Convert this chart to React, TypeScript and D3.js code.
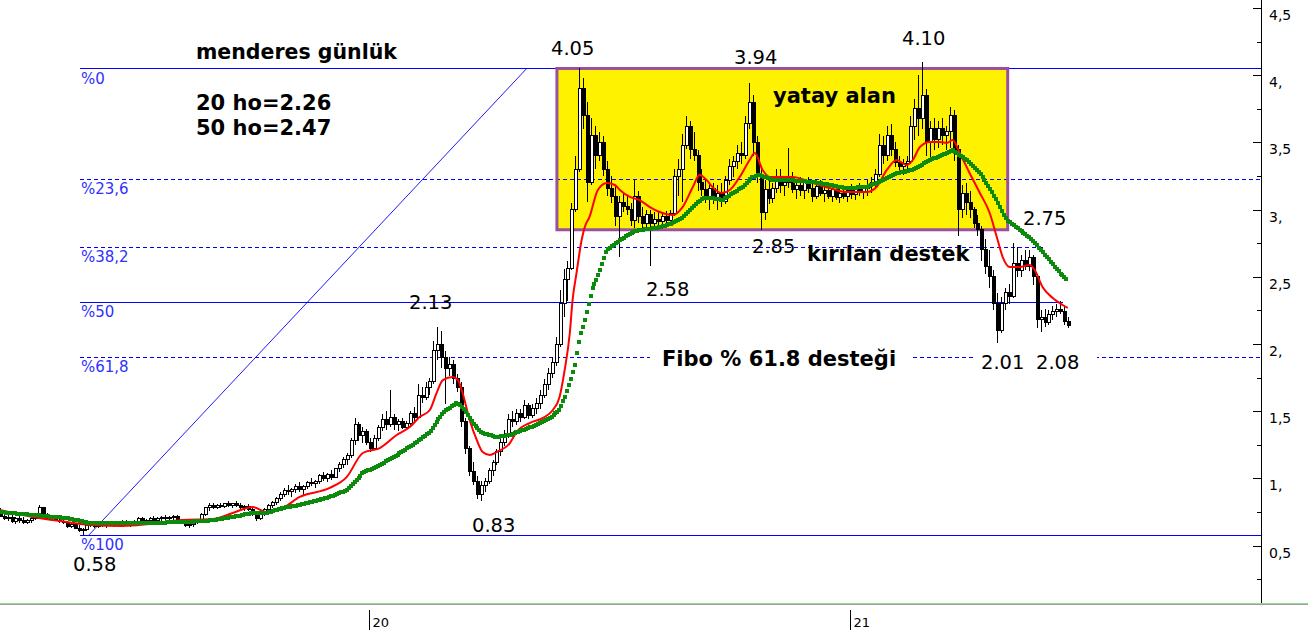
import React from 'react';
import * as d3 from 'd3';

// ---------- DATA ----------
const firstBarDate = new Date(2019, 2, 26);
const barStepDays = 3;

// [open, high, low, close]
const candles2019: number[][] = [
  [0.74,0.78,0.71,0.72],[0.72,0.75,0.69,0.70],[0.70,0.73,0.68,0.71],[0.71,0.73,0.67,0.68],[0.68,0.71,0.66,0.70],
  [0.70,0.72,0.67,0.69],[0.69,0.71,0.66,0.67],[0.67,0.70,0.66,0.69],[0.69,0.72,0.67,0.70],[0.70,0.74,0.69,0.73],
  [0.73,0.80,0.72,0.78],[0.78,0.79,0.72,0.73],[0.73,0.74,0.69,0.70],[0.70,0.72,0.68,0.71],[0.71,0.72,0.68,0.69],
  [0.69,0.71,0.67,0.68],[0.68,0.70,0.66,0.67],[0.67,0.68,0.63,0.64],[0.64,0.67,0.63,0.66],[0.66,0.67,0.62,0.63],
  [0.63,0.65,0.60,0.61],[0.61,0.63,0.58,0.62],[0.62,0.66,0.61,0.65],[0.65,0.68,0.64,0.66],[0.66,0.67,0.63,0.64],
  [0.64,0.67,0.63,0.66],[0.66,0.68,0.64,0.65],[0.65,0.67,0.63,0.66],[0.66,0.68,0.65,0.67],[0.67,0.68,0.64,0.65],
  [0.65,0.67,0.64,0.66],[0.66,0.69,0.65,0.68],[0.68,0.69,0.65,0.66],[0.66,0.68,0.64,0.67],[0.67,0.69,0.66,0.68],
  [0.68,0.71,0.67,0.70],[0.70,0.71,0.67,0.68],[0.68,0.70,0.66,0.69],[0.69,0.71,0.67,0.70],[0.70,0.72,0.68,0.69],
  [0.69,0.71,0.67,0.70],[0.70,0.72,0.68,0.71],[0.71,0.73,0.69,0.70],[0.70,0.72,0.68,0.71],[0.71,0.73,0.69,0.72],
  [0.72,0.73,0.68,0.69],[0.69,0.70,0.66,0.67],[0.67,0.68,0.64,0.65],[0.65,0.67,0.63,0.66],[0.66,0.68,0.64,0.67],
  [0.67,0.70,0.66,0.69],[0.69,0.74,0.68,0.73],[0.73,0.79,0.72,0.78],[0.78,0.82,0.76,0.80],[0.80,0.82,0.77,0.78],
  [0.78,0.81,0.77,0.80],[0.80,0.82,0.78,0.79],[0.79,0.82,0.78,0.81],[0.81,0.83,0.79,0.80],[0.80,0.82,0.78,0.81],
  [0.81,0.83,0.79,0.80],[0.80,0.82,0.77,0.78],[0.78,0.80,0.76,0.79],[0.79,0.81,0.76,0.77],[0.77,0.78,0.72,0.73],
  [0.73,0.75,0.68,0.70],[0.70,0.74,0.69,0.73],[0.73,0.78,0.72,0.77],[0.77,0.81,0.76,0.80],[0.80,0.83,0.78,0.82],
  [0.82,0.86,0.80,0.85],[0.85,0.90,0.83,0.88],[0.88,0.93,0.86,0.91],[0.91,0.95,0.88,0.90],[0.90,0.93,0.86,0.92],
  [0.92,0.96,0.89,0.94],[0.94,0.97,0.90,0.92],[0.92,0.95,0.88,0.94],[0.94,0.98,0.92,0.97],[0.97,1.00,0.94,0.96],
  [0.96,0.99,0.93,0.98],[0.98,1.03,0.96,1.02],[1.02,1.05,0.98,1.00],[1.00,1.04,0.97,1.03],[1.03,1.06,0.99,1.01],
  [1.01,1.08,1.00,1.07],[1.07,1.12,1.05,1.10],[1.10,1.16,1.08,1.14],[1.14,1.19,1.10,1.17],[1.17,1.30,1.15,1.28],
  [1.28,1.45,1.25,1.40],[1.40,1.42,1.28,1.32],[1.32,1.38,1.26,1.35],[1.35,1.37,1.25,1.27],
];

const candles2020a: number[][] = [
  [1.27,1.30,1.20,1.22],[1.22,1.32,1.21,1.30],[1.30,1.40,1.28,1.38],[1.38,1.48,1.35,1.44],[1.44,1.50,1.36,1.40],
  [1.40,1.66,1.38,1.45],[1.45,1.48,1.36,1.40],[1.40,1.44,1.35,1.42],[1.42,1.45,1.37,1.38],[1.38,1.43,1.36,1.41],
  [1.41,1.50,1.40,1.48],[1.48,1.53,1.43,1.45],[1.45,1.70,1.44,1.62],[1.62,1.68,1.56,1.60],[1.60,1.72,1.58,1.68],
  [1.68,1.75,1.62,1.72],[1.72,2.02,1.70,1.95],[1.95,2.13,1.88,2.00],[2.00,2.10,1.82,1.90],[1.90,1.95,1.55,1.82],
  [1.82,1.90,1.76,1.85],[1.85,1.88,1.70,1.74],[1.74,1.78,1.64,1.68],[1.68,1.72,1.38,1.42],[1.42,1.45,1.18,1.22],
  [1.22,1.24,1.02,1.05],[1.05,1.12,0.95,0.98],[0.98,1.02,0.85,0.88],[0.88,0.98,0.83,0.95],[0.95,1.00,0.90,0.98],
  [0.98,1.08,0.96,1.06],[1.06,1.14,1.02,1.12],[1.12,1.22,1.10,1.20],[1.20,1.30,1.17,1.27],[1.27,1.36,1.24,1.32],
  [1.32,1.48,1.30,1.44],[1.44,1.50,1.38,1.42],[1.42,1.52,1.40,1.48],[1.48,1.52,1.42,1.45],[1.45,1.58,1.44,1.54],
  [1.54,1.56,1.44,1.47],[1.47,1.55,1.45,1.52],[1.52,1.60,1.48,1.56],[1.56,1.66,1.52,1.62],[1.62,1.74,1.60,1.70],
  [1.70,1.82,1.66,1.78],[1.78,1.90,1.75,1.86],[1.86,2.05,1.84,2.00],[2.00,2.40,1.98,2.30],[2.30,2.56,2.20,2.48],
  [2.48,2.62,2.32,2.56],[2.56,3.05,2.55,3.00],[3.00,3.40,2.98,3.30],[3.30,4.05,3.28,3.90],[3.90,3.98,3.60,3.70],
  [3.70,3.80,3.06,3.20],[3.20,3.68,3.18,3.55],[3.55,3.62,3.30,3.40],[3.40,3.58,3.36,3.50],[3.50,3.55,3.25,3.30],
  [3.30,3.36,3.10,3.16],
];

const candles2020b: number[][] = [
  [3.16,3.25,3.05,3.10],[3.10,3.18,2.88,2.95],[2.95,3.10,2.65,3.05],[3.05,3.12,2.98,3.02],[3.02,3.10,2.96,3.00],
  [3.00,3.05,2.88,2.92],[2.92,3.22,2.86,3.10],[3.10,3.14,2.90,2.95],[2.95,3.02,2.86,2.90],[2.90,3.00,2.86,2.96],
  [2.96,3.00,2.58,2.90],[2.90,2.98,2.87,2.93],[2.93,2.98,2.88,2.91],[2.91,2.97,2.87,2.95],[2.95,2.99,2.88,2.92],
  [2.92,3.00,2.88,2.97],[2.97,3.30,2.95,3.25],[3.25,3.38,3.10,3.30],[3.30,3.56,3.06,3.48],[3.48,3.70,3.45,3.62],
  [3.62,3.66,3.38,3.45],[3.45,3.58,3.36,3.40],[3.40,3.44,3.14,3.20],[3.20,3.30,3.10,3.15],[3.15,3.22,3.05,3.10],
  [3.10,3.20,3.00,3.16],[3.16,3.20,3.04,3.08],[3.08,3.18,3.00,3.12],[3.12,3.20,3.02,3.06],[3.06,3.25,3.04,3.22],
  [3.22,3.38,3.18,3.32],[3.32,3.40,3.24,3.36],[3.36,3.48,3.30,3.42],[3.42,3.50,3.34,3.40],[3.40,3.70,3.38,3.64],
  [3.64,3.94,3.60,3.80],[3.80,3.85,3.40,3.50],[3.50,3.55,3.20,3.26],[3.26,3.30,2.85,2.98],[2.98,3.22,2.92,3.15],
  [3.15,3.22,3.04,3.08],[3.08,3.20,3.05,3.16],[3.16,3.30,3.12,3.25],[3.25,3.30,3.12,3.18],[3.18,3.24,3.10,3.20],
  [3.20,3.46,3.16,3.24],[3.24,3.28,3.12,3.15],[3.15,3.22,3.08,3.18],[3.18,3.24,3.10,3.14],[3.14,3.22,3.08,3.20],
  [3.20,3.24,3.12,3.16],[3.16,3.20,3.06,3.10],[3.10,3.20,3.08,3.17],[3.17,3.22,3.10,3.12],[3.12,3.18,3.06,3.14],
  [3.14,3.20,3.08,3.10],[3.10,3.18,3.06,3.15],[3.15,3.19,3.07,3.09],[3.09,3.16,3.05,3.12],[3.12,3.18,3.08,3.10],
  [3.10,3.16,3.06,3.14],
];

const candles2021: number[][] = [
  [3.14,3.19,3.08,3.11],[3.11,3.17,3.07,3.15],[3.15,3.20,3.10,3.13],[3.13,3.18,3.08,3.16],[3.16,3.22,3.10,3.18],
  [3.18,3.24,3.12,3.20],[3.20,3.30,3.15,3.26],[3.26,3.56,3.24,3.48],[3.48,3.55,3.34,3.40],[3.40,3.62,3.36,3.55],
  [3.55,3.64,3.40,3.45],[3.45,3.50,3.32,3.35],[3.35,3.40,3.28,3.32],[3.32,3.38,3.26,3.34],[3.34,3.40,3.28,3.36],
  [3.36,3.70,3.34,3.62],[3.62,3.82,3.52,3.75],[3.75,4.00,3.55,3.68],[3.68,4.10,3.60,3.85],[3.85,3.90,3.40,3.50],
  [3.50,3.66,3.36,3.60],[3.60,3.68,3.44,3.52],[3.52,3.66,3.46,3.60],[3.60,3.68,3.48,3.55],[3.55,3.62,3.44,3.58],
  [3.58,3.76,3.46,3.70],[3.70,3.74,3.36,3.45],[3.45,3.48,2.80,3.00],[3.00,3.18,2.94,3.12],[3.12,3.20,2.96,3.05],
  [3.05,3.14,2.94,3.00],[3.00,3.02,2.86,2.90],[2.90,2.96,2.80,2.85],[2.85,2.88,2.62,2.70],[2.70,2.78,2.52,2.58],
  [2.58,2.70,2.42,2.50],[2.50,2.55,2.25,2.30],[2.30,2.38,2.01,2.10],[2.10,2.35,2.08,2.30],[2.30,2.42,2.25,2.38],
  [2.38,2.45,2.30,2.35],[2.35,2.75,2.34,2.60],[2.60,2.72,2.50,2.55],[2.55,2.66,2.50,2.62],[2.62,2.70,2.55,2.58],
  [2.58,2.70,2.54,2.64],[2.64,2.66,2.44,2.50],[2.50,2.52,2.12,2.18],[2.18,2.25,2.09,2.20],[2.20,2.26,2.13,2.16],
  [2.16,2.25,2.14,2.22],[2.22,2.28,2.18,2.24],[2.24,2.30,2.20,2.26],[2.26,2.32,2.22,2.24],[2.24,2.28,2.14,2.17],
  [2.17,2.20,2.12,2.14],
];

// moving averages: [bar index, value]
const ma20Points: number[][] = [
  [0,0.765],[8.4,0.713],[17,0.676],[22.8,0.653],[31.2,0.646],[38,0.661],[46.4,0.690],[54,0.698],[59.1,0.743],
  [64.2,0.787],[67.7,0.750],[71.8,0.780],[76.1,0.862],[83.7,0.929],[88,1.010],[92.1,1.189],[96.4,1.226],
  [100.7,1.323],[104,1.382],[106.5,1.457],[109.1,1.509],[110.8,1.635],[112.4,1.732],[114.9,1.754],[116.2,1.732],
  [117.4,1.635],[119.2,1.435],[121,1.286],[122.5,1.196],[124.3,1.174],[126,1.196],[129.4,1.263],[131.1,1.345],
  [134.4,1.412],[137.7,1.449],[140.3,1.509],[142,1.606],[143.3,1.807],[144.6,2.082],[145.3,2.327],[146.3,2.528],
  [147.6,2.774],[148.4,2.871],[149.6,2.945],[151.7,3.146],[154,3.198],[156,3.183],[157.3,3.146],[159.8,3.094],
  [162.3,3.071],[164.9,3.019],[167.4,2.982],[170.7,2.960],[173.2,3.019],[175.8,3.168],[177.5,3.257],[179.3,3.220],
  [180.8,3.168],[183.1,3.124],[185.2,3.146],[187.7,3.243],[190.2,3.369],[191.5,3.421],[193.5,3.295],[195.3,3.243],
  [197.8,3.243],[201.1,3.243],[206.2,3.198],[210.5,3.161],[214.8,3.131],[219.9,3.131],[222.4,3.168],[225,3.295],
  [227.5,3.369],[230,3.332],[231.6,3.369],[233.4,3.466],[235.9,3.503],[238.4,3.503],[240.2,3.496],[241.7,3.518],
  [243.5,3.421],[246,3.272],[248.6,3.124],[251.1,2.975],[252.9,2.796],[254.4,2.647],[256.2,2.573],[258.7,2.573],
  [261.2,2.588],[262.5,2.551],[264.5,2.424],[267.1,2.342],[269.6,2.290],[270.9,2.268],
];

const ma50Points: number[][] = [
  [0,0.750],[8.4,0.728],[17,0.705],[22.8,0.668],[29.7,0.668],[38,0.668],[46.4,0.676],[52.5,0.683],[59.1,0.713],
  [64.2,0.743],[67.7,0.743],[71.8,0.780],[76.1,0.802],[83.7,0.862],[88,0.914],[92.1,1.040],[96.4,1.100],
  [100.7,1.174],[104.8,1.249],[109.1,1.345],[112.4,1.487],[115.9,1.561],[117.4,1.531],[120,1.412],[122.5,1.338],
  [126,1.308],[129.4,1.323],[132.7,1.360],[136.2,1.397],[139.5,1.449],[142,1.509],[143.8,1.635],[145.8,1.829],
  [147.1,2.052],[148.4,2.179],[149.6,2.327],[150.4,2.424],[151.7,2.498],[154,2.699],[157.3,2.774],[160.6,2.833],
  [162.3,2.848],[166.6,2.863],[170.7,2.900],[173.2,2.938],[175.8,3.019],[178.3,3.086],[180.8,3.086],[183.4,3.071],
  [185.9,3.124],[188.5,3.168],[191,3.243],[192.8,3.257],[196.1,3.220],[200.4,3.220],[206.2,3.205],[214.8,3.161],
  [219.9,3.168],[223.2,3.205],[227.5,3.272],[231.6,3.295],[235.9,3.369],[240.2,3.421],[241.7,3.443],[245.3,3.369],
  [248.6,3.272],[251.9,3.124],[255.4,2.923],[258.7,2.848],[262,2.774],[265.6,2.647],[268.9,2.528],[270.9,2.476],
];

// Fibonacci retracement
const fibHigh = 4.05;
const fibLow = 0.58;
const fibLevels = [0, 23.6, 38.2, 50, 61.8, 100];
const fibLabels = ['%0', '%23,6', '%38,2', '%50', '%61,8', '%100'];
const fibDashed = [false, true, true, false, true, false];
const fibStart = new Date(2019, 4, 26);
const fibEnds: (Date | null)[] = [null, null, new Date(2021, 4, 28), new Date(2021, 5, 12), null, null];
const trendStart = new Date(2019, 5, 2);
const trendEnd = new Date(2020, 3, 30);

// horizontal band "yatay alan"
const boxStart = new Date(2020, 4, 23);
const boxEnd = new Date(2021, 4, 1);
const boxLow = 2.85;
const boxHigh = 4.05;

const axisTicks = d3.range(0.25, 4.51, 0.25);
const priceNotes = ['4.05', '3.94', '4.10', '2.75', '2.58', '2.85', '2.13', '0.83', '0.58', '2.01', '2.08'];
const boldNotes = ['menderes günlük', '20 ho=2.26', '50 ho=2.47', 'yatay alan', 'kırılan destek', 'Fibo % 61.8 desteği'];

// ---------- LAYOUT ----------
const W = 1308, H = 630;
const plotRight = 1261, plotBottom = 603;
const priceNotePos = [[551, 55], [734, 64], [902, 45], [1023, 225], [646, 296], [752, 253], [409, 309], [472, 532], [73, 571], [981, 369], [1036, 369]];
const boldNotePos = [[196, 59], [196, 110], [196, 135], [773, 103], [807, 261], [662, 366]];
const FONT = '"DejaVu Sans", Verdana, sans-serif';

export default function App() {
  const xS = d3.scaleTime().domain([new Date(2020, 0, 1), new Date(2021, 0, 1)]).range([369, 850]);
  const yS = d3.scaleLinear().domain([0.5, 4.5]).range([545.6, 8]);
  const barDate = (i: number) => new Date(firstBarDate.getTime() + i * barStepDays * 864e5);
  const bx = (i: number) => xS(barDate(i));
  const candles = [...candles2019, ...candles2020a, ...candles2020b, ...candles2021];

  const redPath = d3.line<number[]>().x(p => bx(p[0])).y(p => yS(p[1])).curve(d3.curveMonotoneX)(ma20Points) || '';
  const gX = ma50Points.map(p => bx(p[0]));
  const gY = ma50Points.map(p => yS(p[1]));
  const gInterp = d3.scaleLinear().domain(gX).range(gY);
  const greenDots = d3.range(gX[0], gX[gX.length - 1] + 0.001, 1.95).map(px => [px, gInterp(px)]);

  const fibY = fibLevels.map(l => yS(fibHigh - (fibHigh - fibLow) * l / 100));
  const fx0 = xS(fibStart);

  const yearTicks = d3.timeYear.range(xS.invert(0), xS.invert(plotRight));
  const fmtTick = (v: number) => (Math.abs(v - Math.round(v)) < 1e-9 ? `${Math.round(v)},` : String(v).replace('.', ','));

  const bx0 = xS(boxStart), bx1 = xS(boxEnd), by0 = yS(boxHigh), by1 = yS(boxLow);

  return (
    <svg width={W} height={H} style={{ position: 'absolute', left: 0, top: 0, background: '#fff' }} fontFamily={FONT}>
      <rect x={0} y={0} width={W} height={H} fill="#fff" />
      <defs>
        <clipPath id="plot"><rect x={0} y={0} width={plotRight} height={plotBottom} /></clipPath>
      </defs>
      <g clipPath="url(#plot)">
        {/* band fill */}
        <rect x={bx0} y={by0} width={bx1 - bx0} height={by1 - by0} fill="#fff200" />
        {/* fib lines */}
        {fibY.map((fy, k) => (
          <line key={'f' + k} x1={fx0} x2={fibEnds[k] ? xS(fibEnds[k] as Date) : plotRight} y1={Math.round(fy) + 0.5} y2={Math.round(fy) + 0.5}
            stroke="#0000ff" strokeWidth={1} strokeDasharray={fibDashed[k] ? '4,3' : undefined} shapeRendering="crispEdges" />
        ))}
        <line x1={xS(trendStart)} y1={yS(fibLow)} x2={xS(trendEnd)} y2={yS(fibHigh)} stroke="#0000ff" strokeWidth={0.9} />
        {fibLabels.map((t, k) => (
          <text key={'fl' + k} x={81} y={fibY[k] + 15.5} fontSize={15} fill="#3030ff">{t}</text>
        ))}
        {/* white text backgrounds */}
        <rect x={650} y={346} width={263} height={26} fill="#fff" />
        <rect x={975} y={350} width={122} height={24} fill="#fff" />
        {/* band border */}
        <rect x={bx0} y={by0} width={bx1 - bx0} height={by1 - by0} fill="none" stroke="#9b4f9f" strokeWidth={3} />
        {/* candles */}
        <g shapeRendering="crispEdges">
          {candles.map((c, i) => {
            const cx = Math.round(bx(i)) + 0.5;
            const [o, h, l, cl] = c;
            const up = cl >= o;
            const top = yS(Math.max(o, cl)), bot = yS(Math.min(o, cl));
            return (
              <g key={'c' + i}>
                <line x1={cx} x2={cx} y1={yS(h)} y2={yS(l)} stroke="#000" strokeWidth={1} />
                <rect x={cx - 1.5} y={top} width={3} height={Math.max(1, bot - top)} fill={up ? '#fff' : '#000'} stroke="#000" strokeWidth={1} />
              </g>
            );
          })}
        </g>
        {/* MA 20 */}
        <path d={redPath} fill="none" stroke="#ff0000" strokeWidth={2} />
        {/* MA 50 */}
        <g fill="#0b8a0b" shapeRendering="crispEdges">
          {greenDots.map((p, k) => <rect key={'g' + k} x={p[0] - 2} y={p[1] - 2} width={4} height={4} />)}
        </g>
      </g>

      {/* price annotations */}
      {priceNotes.map((t, k) => (
        <text key={'pn' + k} x={priceNotePos[k][0]} y={priceNotePos[k][1]} fontSize={19.5} fill="#000">{t}</text>
      ))}
      {boldNotes.map((t, k) => (
        <text key={'bn' + k} x={boldNotePos[k][0]} y={boldNotePos[k][1]} fontSize={k === 0 ? 20.5 : 21} fontWeight="bold" fill="#000">{t}</text>
      ))}

      {/* right axis */}
      <line x1={plotRight + 0.5} x2={plotRight + 0.5} y1={0} y2={plotBottom} stroke="#000" />
      {axisTicks.map((v, k) => {
        const ty = Math.round(yS(v)) + 0.5;
        const major = Math.abs(v * 2 - Math.round(v * 2)) < 1e-9;
        return (
          <g key={'t' + k}>
            <line x1={plotRight - (major ? 8 : 4)} x2={plotRight} y1={ty} y2={ty} stroke="#000" />
            {major && <text x={plotRight + 8} y={ty + 11} fontSize={14} fill="#000">{fmtTick(v)}</text>}
          </g>
        );
      })}

      {/* bottom axis */}
      <line x1={0} x2={W} y1={plotBottom + 0.5} y2={plotBottom + 0.5} stroke="#90dc90" />
      <line x1={0} x2={W} y1={plotBottom + 1.5} y2={plotBottom + 1.5} stroke="#a0a0a0" />
      {yearTicks.map((d, k) => {
        const tx = Math.round(xS(d)) + 0.5;
        return (
          <g key={'yt' + k}>
            <line x1={tx} x2={tx} y1={610} y2={630} stroke="#000" />
            <text x={tx + 3} y={627} fontSize={13} fill="#000">{d3.timeFormat('%y')(d)}</text>
          </g>
        );
      })}
    </svg>
  );
}
